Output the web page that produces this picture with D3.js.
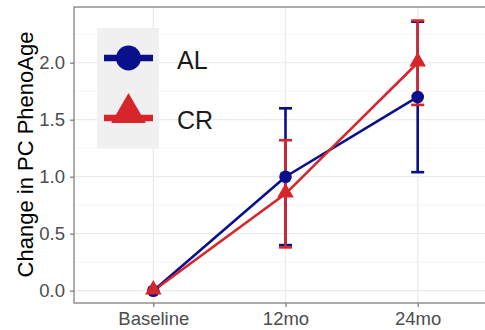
<!DOCTYPE html>
<html>
<head>
<meta charset="utf-8">
<script src="https://cdn.jsdelivr.net/npm/d3@7"></script>
<style>
  html, body { margin: 0; padding: 0; background: #fff; }
  svg { display: block; font-family: "Liberation Sans", Arial, Helvetica, sans-serif; }
</style>
</head>
<body>
<svg id="chart" width="485" height="330"></svg>
<script>
// Time points and group labels
const timepoints = ["Baseline", "12mo", "24mo"];
const groups = ["AL", "CR"];

// Mean change in PC PhenoAge per group
const alMean = [0, 1.00, 1.70];
const crMean = [0, 0.85, 2.00];

// Error bar bounds per group
const alLower = [0, 0.40, 1.04];
const alUpper = [0, 1.60, 2.36];
const crLower = [0, 0.38, 1.63];
const crUpper = [0, 1.32, 2.37];

// Axis ticks
const yTicks = [0, 0.5, 1.0, 1.5, 2.0];
const yMinor = [0.25, 0.75, 1.25, 1.75, 2.25];

const colors = { AL: "#0A0F8C", CR: "#D7262B" };

const series = [
  { name: "AL", mean: alMean, lo: alLower, hi: alUpper },
  { name: "CR", mean: crMean, lo: crLower, hi: crUpper }
];

const svg = d3.select("#chart");
const panel = { left: 74, top: 7, right: 497, bottom: 303 };

const x = d3.scalePoint().domain(timepoints)
  .range([panel.left, panel.right]).padding(0.6);
const y = d3.scaleLinear().domain([-0.108, 2.489])
  .range([panel.bottom, panel.top]);

// Grid lines
const grid = svg.append("g");
grid.selectAll("line.minor").data(yMinor).join("line")
  .attr("x1", panel.left).attr("x2", panel.right)
  .attr("y1", d => y(d)).attr("y2", d => y(d))
  .attr("stroke", "#F2F2F2").attr("stroke-width", 0.8);
grid.selectAll("line.major").data(yTicks).join("line")
  .attr("x1", panel.left).attr("x2", panel.right)
  .attr("y1", d => y(d)).attr("y2", d => y(d))
  .attr("stroke", "#EBEBEB").attr("stroke-width", 1.2);
grid.selectAll("line.vx").data(timepoints).join("line")
  .attr("x1", d => x(d)).attr("x2", d => x(d))
  .attr("y1", panel.top).attr("y2", panel.bottom)
  .attr("stroke", "#EBEBEB").attr("stroke-width", 1.2);

// Panel border
svg.append("rect")
  .attr("x", panel.left).attr("y", panel.top)
  .attr("width", panel.right - panel.left).attr("height", panel.bottom - panel.top)
  .attr("fill", "none").attr("stroke", "#808080").attr("stroke-width", 1.3);

// Axes
const yAxis = svg.append("g")
  .attr("transform", `translate(${panel.left},0)`)
  .call(d3.axisLeft(y).tickValues(yTicks).tickFormat(d3.format(".1f")).tickSizeOuter(0).tickSize(4).tickPadding(5));
const xAxis = svg.append("g")
  .attr("transform", `translate(0,${panel.bottom})`)
  .call(d3.axisBottom(x).tickSizeOuter(0).tickSize(4).tickPadding(5));
[yAxis, xAxis].forEach(a => {
  a.select(".domain").remove();
  a.selectAll(".tick line").attr("stroke", "#808080").attr("stroke-width", 1.3);
  a.selectAll(".tick text").attr("fill", "#4D4D4D")
    .style("font-size", "18.5px").style("font-family", "'Liberation Sans', Arial, sans-serif");
});

// Y axis title
svg.append("text")
  .attr("transform", "translate(33,154.5) rotate(-90)")
  .attr("text-anchor", "middle")
  .style("font-size", "22px").attr("fill", "#000")
  .text("Change in PC PhenoAge");

// Error bars
const capHalf = 6.5;
const eb = svg.append("g");
series.forEach(s => {
  const g = eb.append("g").attr("stroke", colors[s.name]).attr("stroke-width", 2.6);
  timepoints.forEach((t, i) => {
    if (s.hi[i] === s.lo[i]) return;
    g.append("line").attr("x1", x(t)).attr("x2", x(t))
      .attr("y1", y(s.lo[i])).attr("y2", y(s.hi[i]));
    [s.lo[i], s.hi[i]].forEach(v => {
      g.append("line").attr("x1", x(t) - capHalf).attr("x2", x(t) + capHalf)
        .attr("y1", y(v)).attr("y2", y(v));
    });
  });
});

// Lines
const line = d3.line().x((d, i) => x(timepoints[i])).y(d => y(d));
series.forEach(s => {
  svg.append("path").datum(s.mean)
    .attr("d", line).attr("fill", "none")
    .attr("stroke", colors[s.name]).attr("stroke-width", 2.6);
});

// Points
const tri = d3.symbol().type(d3.symbolTriangle).size(120);
series.forEach(s => {
  timepoints.forEach((t, i) => {
    if (s.name === "AL") {
      svg.append("circle").attr("cx", x(t)).attr("cy", y(s.mean[i])).attr("r", 6.3)
        .attr("fill", colors.AL);
    } else {
      svg.append("path").attr("d", tri)
        .attr("transform", `translate(${x(t)},${y(s.mean[i]) - 1})`)
        .attr("fill", colors.CR);
    }
  });
});

// Legend
const legend = svg.append("g");
legend.append("rect").attr("x", 97).attr("y", 28).attr("width", 62).attr("height", 120)
  .attr("fill", "#F0F0F0");
const keyY = [58, 118];
groups.forEach((gname, i) => {
  const cy = keyY[i];
  legend.append("line").attr("x1", 104).attr("x2", 153).attr("y1", cy).attr("y2", cy)
    .attr("stroke", colors[gname]).attr("stroke-width", 6.5);
  if (gname === "AL") {
    legend.append("circle").attr("cx", 128.5).attr("cy", cy).attr("r", 12.5).attr("fill", colors.AL);
  } else {
    legend.append("path").attr("d", d3.symbol().type(d3.symbolTriangle).size(520))
      .attr("transform", `translate(128.5,${cy - 5})`).attr("fill", colors.CR);
  }
  legend.append("text").attr("x", 177).attr("y", cy + 11)
    .style("font-size", "25px").attr("fill", "#1A1A1A").text(gname);
});
</script>
</body>
</html>
